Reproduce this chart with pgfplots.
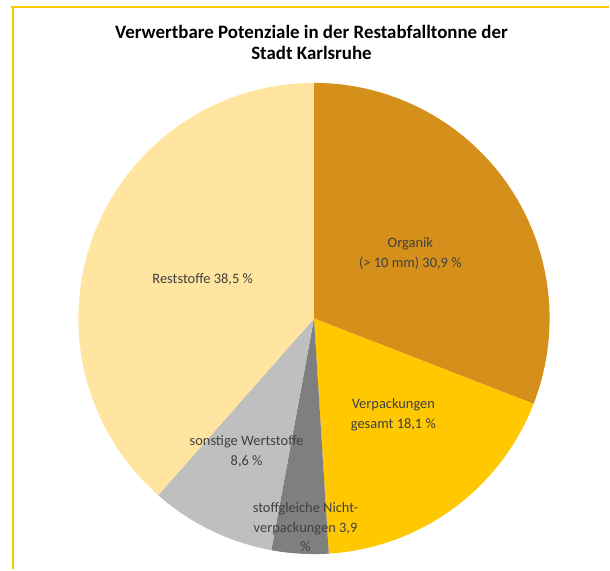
\documentclass[border=0pt]{standalone}
\usepackage{fontspec}
\setmainfont{Carlito}
\usepackage{pgfplots}
\pgfplotsset{compat=1.18}
\definecolor{cOrg}{HTML}{D4901A}
\definecolor{cVerp}{HTML}{FFC800}
\definecolor{cStoff}{HTML}{7F7F7F}
\definecolor{cSonst}{HTML}{BFBFBF}
\definecolor{cRest}{HTML}{FFE5A0}
\definecolor{cFrame}{HTML}{FFC800}
\definecolor{cLab}{HTML}{404040}
% shares in percent
\def\pOrg{30.9}
\def\pVerp{18.1}
\def\pStoff{3.9}
\def\pSonst{8.6}
\def\pRest{38.5}
\begin{document}
\begin{tikzpicture}
\pgfmathsetmacro{\aA}{90}
\pgfmathsetmacro{\aB}{\aA-3.6*\pOrg}
\pgfmathsetmacro{\aC}{\aB-3.6*\pVerp}
\pgfmathsetmacro{\aD}{\aC-3.6*\pStoff}
\pgfmathsetmacro{\aE}{\aD-3.6*\pSonst}
\pgfmathsetmacro{\aF}{\aE-3.6*\pRest}
\def\cx{314.5}
\def\cy{251}
\def\r{236}
\begin{axis}[
  scale only axis, width=610bp, height=570bp,
  xmin=0, xmax=610, ymin=0, ymax=570,
  hide axis, clip=false,
]
\path (rel axis cs:0,0) rectangle (rel axis cs:1,1);
\addplot[fill=cOrg, draw=none, domain=\aA:\aB, samples=80, variable=\t]
  ({\cx+\r*cos(\t)},{\cy+\r*sin(\t)}) -- (axis cs:\cx,\cy) -- cycle;
\addplot[fill=cVerp, draw=none, domain=\aB:\aC, samples=60, variable=\t]
  ({\cx+\r*cos(\t)},{\cy+\r*sin(\t)}) -- (axis cs:\cx,\cy) -- cycle;
\addplot[fill=cStoff, draw=none, domain=\aC:\aD, samples=20, variable=\t]
  ({\cx+\r*cos(\t)},{\cy+\r*sin(\t)}) -- (axis cs:\cx,\cy) -- cycle;
\addplot[fill=cSonst, draw=none, domain=\aD:\aE, samples=30, variable=\t]
  ({\cx+\r*cos(\t)},{\cy+\r*sin(\t)}) -- (axis cs:\cx,\cy) -- cycle;
\addplot[fill=cRest, draw=none, domain=\aE:\aF, samples=100, variable=\t]
  ({\cx+\r*cos(\t)},{\cy+\r*sin(\t)}) -- (axis cs:\cx,\cy) -- cycle;
% frame lines
\addplot[cFrame, line width=2bp] coordinates {(11,563.3) (610,563.3)};
\addplot[cFrame, line width=2bp] coordinates {(12.7,564.3) (12.7,0)};
% title
\node[font=\fontsize{19}{22}\selectfont\bfseries, align=center] at (axis cs:312,527.5)
  {Verwertbare Potenziale in der Restabfalltonne der\\Stadt Karlsruhe};
% labels
\begin{scope}[every node/.style={text=cLab, align=center, font=\fontsize{14.5}{20}\selectfont}]
\node at (axis cs:411,316.5) {Organik\\(> 10 mm) 30,9 \%};
\node at (axis cs:394,155) {Verpackungen\\gesamt 18,1 \%};
\node at (axis cs:247,118) {sonstige Wertstoffe\\8,6 \%};
\node[font=\fontsize{14.5}{19.5}\selectfont] at (axis cs:306,42) {stoffgleiche Nicht-\\verpackungen 3,9\\\%};
\node at (axis cs:203,290) {Reststoffe 38,5 \%};
\end{scope}
\end{axis}
\end{tikzpicture}
\end{document}
